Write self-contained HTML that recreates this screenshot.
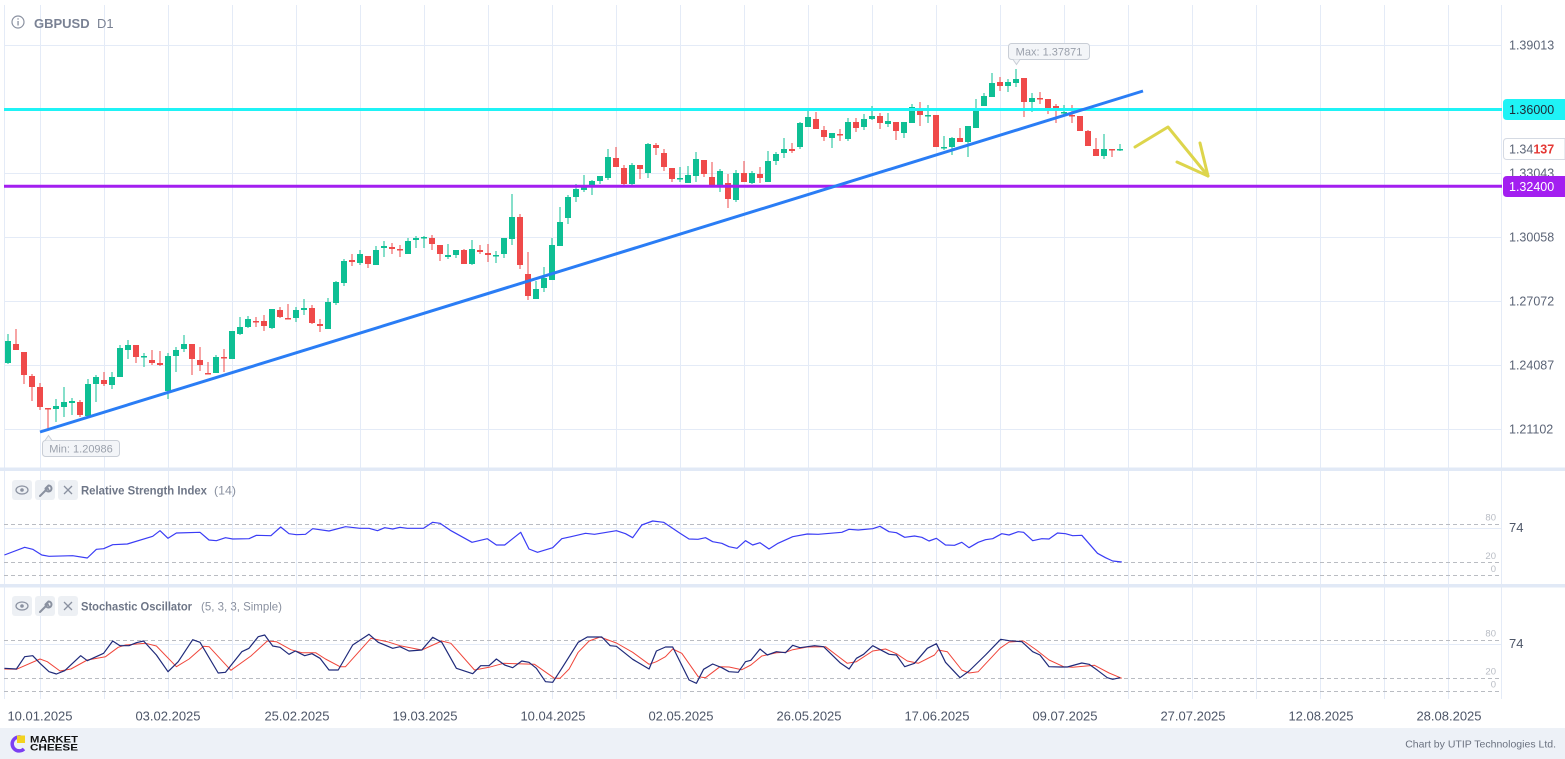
<!DOCTYPE html>
<html><head><meta charset="utf-8"><style>
html,body{margin:0;padding:0;background:#fff;}
svg{display:block;font-family:"Liberation Sans",Arial,sans-serif;}
</style></head><body>
<svg width="1565" height="759" viewBox="0 0 1565 759" xmlns="http://www.w3.org/2000/svg">
<rect width="1565" height="759" fill="#fff"/>
<!-- vertical grid -->
<g stroke="#e4ebf7" stroke-width="1">
<path d="M4.5 5V699M40.5 5V699M104.5 5V699M168.5 5V699M232.5 5V699M296.5 5V699M360.5 5V699M424.5 5V699M488.5 5V699M552.5 5V699M616.5 5V699M680.5 5V699M744.5 5V699M808.5 5V699M872.5 5V699M936.5 5V699M1000.5 5V699M1064.5 5V699M1128.5 5V699M1192.5 5V699M1256.5 5V699M1320.5 5V699M1384.5 5V699M1448.5 5V699M1501.5 5V699"/>
<path d="M4 45.5H1502M4 109.5H1502M4 173.5H1502M4 237.5H1502M4 301.5H1502M4 365.5H1502M4 429.5H1502M4 528.5H1502M4 644.5H1502"/>
</g>
<!-- separators -->
<rect x="0" y="467.5" width="1565" height="3.5" fill="#e1e9f6"/>
<rect x="0" y="584" width="1565" height="3.5" fill="#e1e9f6"/>
<!-- dashed levels -->
<g stroke="#b9bcc2" stroke-width="1" stroke-dasharray="4,3">
<path d="M4 524.5H1500M4 562.5H1500M4 575.5H1500M4 640.5H1500M4 678.5H1500M4 691.5H1500"/>
</g>
<!-- candles green -->
<g fill="#0ebf94">
<path stroke="#0ebf94" stroke-width="1" d="M8 334V364M56 399V422M64 387V417M72 398V415M88 379V417M96 375V402M112 372V389M120 345V377M128 340V359M144 353V367M168 353V399M176 347V372M184 335V352M216 355V373M232 331V359M240 317V335M248 316V328M272 309V329M296 307V322M304 299V315M328 298V329M336 281V305M344 259V286M360 250V265M376 246V265M384 241V257M408 238V254M416 236V248M424 236V248M448 244V259M456 250V258M472 240V265M496 251V263M504 238V258M512 194V245M536 281V299M544 267V292M552 238V280M560 207V246M568 195V224M576 184V202M584 175V192M592 180V195M600 176V184M608 149V180M632 163V185M648 143V178M680 167V182M688 166V183M696 152V182M720 169V192M736 170V202M752 171V184M768 151V182M776 152V165M784 138V158M800 122V149M808 111V127M832 133V148M848 118V141M864 114V130M872 106V120M888 113V127M904 122V138M912 104V123M928 105V123M944 136V150M952 137V155M968 126V157M976 99V128M984 93V106M992 73V97M1008 79V92M1016 69V87M1032 93V112M1064 105V116M1104 134V159M1120 144V151"/>
<rect x="5" y="341" width="6" height="22"/><rect x="53" y="406" width="6" height="3"/><rect x="61" y="402" width="6" height="5"/><rect x="69" y="401" width="6" height="2"/><rect x="85" y="384" width="6" height="32"/><rect x="93" y="377" width="6" height="7"/><rect x="109" y="377" width="6" height="8"/><rect x="117" y="348" width="6" height="29"/><rect x="125" y="345" width="6" height="5"/><rect x="141" y="356" width="6" height="1.5"/><rect x="165" y="356" width="6" height="35"/><rect x="173" y="350" width="6" height="6"/><rect x="181" y="344" width="6" height="5"/><rect x="213" y="357" width="6" height="16"/><rect x="229" y="331" width="6" height="28"/><rect x="237" y="327" width="6" height="7"/><rect x="245" y="319" width="6" height="8"/><rect x="269" y="309" width="6" height="19"/><rect x="293" y="310" width="6" height="8"/><rect x="301" y="308" width="6" height="2"/><rect x="325" y="302" width="6" height="27"/><rect x="333" y="282" width="6" height="21"/><rect x="341" y="261" width="6" height="22"/><rect x="357" y="254" width="6" height="9"/><rect x="373" y="250" width="6" height="15"/><rect x="381" y="246" width="6" height="2"/><rect x="405" y="241" width="6" height="13"/><rect x="413" y="238" width="6" height="2"/><rect x="421" y="237" width="6" height="1.5"/><rect x="445" y="255" width="6" height="2"/><rect x="453" y="250" width="6" height="5"/><rect x="469" y="249" width="6" height="15"/><rect x="493" y="255" width="6" height="1.5"/><rect x="501" y="238" width="6" height="16"/><rect x="509" y="217" width="6" height="22"/><rect x="533" y="289" width="6" height="10"/><rect x="541" y="278" width="6" height="10"/><rect x="549" y="245" width="6" height="35"/><rect x="557" y="222" width="6" height="24"/><rect x="565" y="197" width="6" height="21"/><rect x="573" y="189" width="6" height="8"/><rect x="581" y="187" width="6" height="3"/><rect x="589" y="181" width="6" height="5"/><rect x="597" y="176" width="6" height="5"/><rect x="605" y="157" width="6" height="21"/><rect x="629" y="165" width="6" height="19"/><rect x="645" y="144" width="6" height="29"/><rect x="677" y="178" width="6" height="1.5"/><rect x="685" y="175" width="6" height="8"/><rect x="693" y="159" width="6" height="17"/><rect x="717" y="171" width="6" height="14"/><rect x="733" y="173" width="6" height="27"/><rect x="749" y="173" width="6" height="10"/><rect x="765" y="161" width="6" height="21"/><rect x="773" y="154" width="6" height="7"/><rect x="781" y="149" width="6" height="4"/><rect x="797" y="123" width="6" height="24"/><rect x="805" y="117" width="6" height="10"/><rect x="829" y="133" width="6" height="5"/><rect x="845" y="122" width="6" height="17"/><rect x="861" y="119" width="6" height="8"/><rect x="869" y="116" width="6" height="3"/><rect x="885" y="121" width="6" height="3"/><rect x="901" y="122" width="6" height="11"/><rect x="909" y="107" width="6" height="16"/><rect x="925" y="115" width="6" height="1.5"/><rect x="941" y="147" width="6" height="1.5"/><rect x="949" y="138" width="6" height="9"/><rect x="965" y="126" width="6" height="16"/><rect x="973" y="108" width="6" height="20"/><rect x="981" y="96" width="6" height="10"/><rect x="989" y="83" width="6" height="14"/><rect x="1005" y="82" width="6" height="4"/><rect x="1013" y="79" width="6" height="4"/><rect x="1029" y="98" width="6" height="4"/><rect x="1061" y="112" width="6" height="1.5"/><rect x="1101" y="149" width="6" height="7"/><rect x="1117" y="149" width="6" height="1.5"/>
</g>
<!-- candles red -->
<g fill="#ef4a4a">
<path stroke="#ef4a4a" stroke-width="1" d="M16 329V350M24 352V384M32 374V401M40 383V410M48 408V430M80 400V417M104 372V386M136 345V363M152 350V365M160 351V366M192 344V375M200 347V371M208 362V374M224 349V372M256 317V327M264 315V331M280 307V318M288 304V319M312 305V324M320 319V332M352 254V266M368 256V268M392 243V254M400 245V257M432 235V250M440 245V261M464 249V264M480 245V254M488 244V262M520 214V269M528 252V300M616 147V167M624 165V185M640 165V179M656 143V155M664 149V171M672 168V182M704 160V177M712 162V187M728 174V208M744 161V182M760 167V183M792 143V153M816 112V129M824 126V141M840 129V141M856 118V132M880 113V129M896 122V140M920 102V126M936 115V147M960 128V142M1000 77V91M1024 78V117M1040 92V104M1048 99V114M1056 104V123M1072 105V123M1080 116V131M1088 130V146M1096 138V156M1112 149V157"/>
<rect x="13" y="344" width="6" height="6"/><rect x="21" y="352" width="6" height="23"/><rect x="29" y="376" width="6" height="11"/><rect x="37" y="387" width="6" height="20"/><rect x="45" y="408" width="6" height="1.5"/><rect x="77" y="402" width="6" height="13"/><rect x="101" y="380" width="6" height="4"/><rect x="133" y="345" width="6" height="12"/><rect x="149" y="360" width="6" height="3"/><rect x="157" y="363" width="6" height="2"/><rect x="189" y="344" width="6" height="15"/><rect x="197" y="360" width="6" height="5"/><rect x="205" y="373" width="6" height="1.5"/><rect x="221" y="357" width="6" height="1.5"/><rect x="253" y="321" width="6" height="1.5"/><rect x="261" y="321" width="6" height="5"/><rect x="277" y="310" width="6" height="7"/><rect x="285" y="318" width="6" height="1.5"/><rect x="309" y="308" width="6" height="15"/><rect x="317" y="324" width="6" height="2"/><rect x="349" y="260" width="6" height="2"/><rect x="365" y="256" width="6" height="8"/><rect x="389" y="247" width="6" height="2"/><rect x="397" y="249" width="6" height="1.5"/><rect x="429" y="238" width="6" height="6"/><rect x="437" y="245" width="6" height="9"/><rect x="461" y="250" width="6" height="14"/><rect x="477" y="250" width="6" height="2"/><rect x="485" y="253" width="6" height="2"/><rect x="517" y="217" width="6" height="48"/><rect x="525" y="274" width="6" height="22"/><rect x="613" y="158" width="6" height="9"/><rect x="621" y="168" width="6" height="16"/><rect x="637" y="165" width="6" height="4"/><rect x="653" y="145" width="6" height="3"/><rect x="661" y="153" width="6" height="14"/><rect x="669" y="168" width="6" height="11"/><rect x="701" y="160" width="6" height="14"/><rect x="709" y="177" width="6" height="8"/><rect x="725" y="183" width="6" height="16"/><rect x="741" y="173" width="6" height="9"/><rect x="757" y="174" width="6" height="4"/><rect x="789" y="149" width="6" height="2"/><rect x="813" y="119" width="6" height="10"/><rect x="821" y="130" width="6" height="7"/><rect x="837" y="134" width="6" height="1.5"/><rect x="853" y="122" width="6" height="6"/><rect x="877" y="116" width="6" height="7"/><rect x="893" y="122" width="6" height="9"/><rect x="917" y="110" width="6" height="5"/><rect x="933" y="115" width="6" height="32"/><rect x="957" y="138" width="6" height="4"/><rect x="997" y="82" width="6" height="4"/><rect x="1021" y="78" width="6" height="24"/><rect x="1037" y="98" width="6" height="1.5"/><rect x="1045" y="99" width="6" height="9"/><rect x="1053" y="106" width="6" height="4"/><rect x="1069" y="115" width="6" height="1.5"/><rect x="1077" y="116" width="6" height="15"/><rect x="1085" y="131" width="6" height="15"/><rect x="1093" y="149" width="6" height="7"/><rect x="1109" y="149" width="6" height="1.5"/>
</g>
<!-- horizontal levels -->
<line x1="4" y1="109.5" x2="1502" y2="109.5" stroke="#1ff3f6" stroke-width="3"/>
<line x1="4" y1="186.3" x2="1502" y2="186.3" stroke="#a31ff0" stroke-width="3"/>
<!-- trendline -->
<line x1="40" y1="432" x2="1143" y2="91" stroke="#2a7df5" stroke-width="3"/>
<!-- yellow arrow -->
<g stroke="#ddd54c" stroke-width="3" fill="none" stroke-linecap="round" stroke-linejoin="round">
<polyline points="1135,147 1168,127 1208,176"/>
<polyline points="1177,162 1208,176 1200,143"/>
</g>
<!-- max / min labels -->
<g>
<rect x="1008.5" y="43.5" width="81" height="16" rx="3" fill="#f3f5f8" stroke="#c9ced6"/>
<path d="M1013 59.5L1016.5 64.5L1020 59.5" fill="#f3f5f8" stroke="#c9ced6"/>
<text x="1049" y="55.5" font-size="11" fill="#9aa0ab" text-anchor="middle">Max: 1.37871</text>
<rect x="42.5" y="440.5" width="77" height="16" rx="3" fill="#f3f5f8" stroke="#c9ced6"/>
<path d="M45 440.5L48.5 435.5L52 440.5" fill="#f3f5f8" stroke="#c9ced6"/>
<text x="81" y="452.5" font-size="11" fill="#9aa0ab" text-anchor="middle">Min: 1.20986</text>
</g>
<!-- price axis labels -->
<g font-size="12.5" fill="#5c6577">
<text x="1509" y="49.5">1.39013</text>
<text x="1509" y="177.5">1.33043</text>
<text x="1509" y="241.5">1.30058</text>
<text x="1509" y="305.5">1.27072</text>
<text x="1509" y="369.5">1.24087</text>
<text x="1509" y="433.5">1.21102</text>
</g>
<path d="M1507 99H1565V120H1507Q1503 120 1503 116V103Q1503 99 1507 99Z" fill="#1ff3f6"/>
<text x="1509" y="114" font-size="12.5" fill="#1f2a37">1.36000</text>
<path d="M1507 138.5H1565V159.5H1507Q1503.5 159.5 1503.5 156V142Q1503.5 138.5 1507 138.5Z" fill="#fff" stroke="#d5dae3"/>
<text x="1509" y="153.5" font-size="12.5" fill="#5c6577">1.34<tspan fill="#e53935" font-weight="bold">137</tspan></text>
<path d="M1507 176H1565V197H1507Q1503 197 1503 193V180Q1503 176 1507 176Z" fill="#a31ff0"/>
<text x="1509" y="191" font-size="12.5" fill="#fff">1.32400</text>
<!-- header -->
<circle cx="18" cy="22" r="6" fill="none" stroke="#8a91a0" stroke-width="1.2"/>
<rect x="17.4" y="21" width="1.3" height="4.5" fill="#8a91a0"/><rect x="17.4" y="18.3" width="1.3" height="1.3" fill="#8a91a0"/>
<text x="34" y="28" font-size="13" font-weight="bold" fill="#7a8294">GBPUSD</text>
<text x="97" y="28" font-size="13" fill="#7a8294">D1</text>
<!-- RSI -->
<polyline fill="none" stroke="#3a3cf5" stroke-width="1.2" stroke-linejoin="round" points="4.4,555 24.7,547.3 32.7,549.3 41.8,555 49,556.3 72.7,555.7 87.3,558 96.4,549.3 103.6,548.7 112.7,544.7 127.3,544 152.7,536.3 160,530.7 168,538.3 176.4,533 200,532.3 209,540 216.4,540.7 225.5,537.7 232.7,539 249,538.7 256.4,535.3 270.9,535.7 280.7,527 289,533.7 296.4,534.7 305.5,534.3 312.7,528.7 329,531 345.5,526.7 360,528.3 369,528.3 377.5,530.7 384.7,527.7 392.7,529 400,527.3 407.3,528.3 423.6,528.3 432.7,522.3 440,523.3 451,530.7 472,542.3 487.3,538.7 496.4,545 504.7,545 520.7,532.3 529,549 537.5,552.3 552.7,547.7 561.8,538.7 571,536.7 585.5,533.3 594.5,534.3 616.4,530.7 625.5,533.7 632.7,537.7 641.8,525 652.7,521 663.6,522.3 680,533.3 689,539 698,539.3 705.5,537.7 712.7,541.7 721.8,543.3 729,546.7 737,548.3 745.5,540.7 752.7,545 760,542.7 769,549 778,543.3 792.7,536.7 807.3,534 818.2,534.3 841.8,532.3 849,529.3 858.2,530 872.7,528.7 880,526.3 889,531.7 896.4,532.7 904.7,537.3 914.5,536 921.8,537.3 929,541 936.4,538.3 945.5,545 954.5,545.3 961.8,542.3 969,547.7 978.2,542.3 985.5,539.7 992.7,538.7 1001.8,533.7 1009,535 1018.2,531.7 1023.6,532.3 1032.7,540.7 1041.8,538.7 1049,539 1057.5,533 1065.5,533.7 1072.7,535.7 1081.8,535.3 1097.5,553.3 1105.5,557.7 1112.7,561 1121.8,562"/>
<!-- Stoch -->
<polyline fill="none" stroke="#f0453a" stroke-width="1" stroke-linejoin="round" points="4.4,669 16.4,669.3 40,659 47.3,661.7 60,671 70.9,669 87.3,660 105.5,656.7 118.2,647.3 125.5,645 145.5,643.3 156.4,646 176.4,666.7 189.1,659 203.6,646.3 209.1,646.7 230.9,670.3 250.9,656 267.3,641 276.4,641.7 290.9,649.7 301.8,652.7 315.6,652.7 325.5,659 340,666.7 345.5,666.7 370.9,638.3 387.3,641.7 400,645.7 421.8,650 441.8,641 450.9,643.3 474.5,670 489,667.3 503.6,663.3 534.5,664.3 554.5,678.3 560,678.3 569.1,669 578.2,652.3 589.1,641 600,637 616.4,643 632.7,652.3 649.1,664.3 656.4,661.7 665.5,656.7 672.7,649 681.8,653.3 698.2,676.7 705.5,677.7 720,666.7 729.1,667 741.8,669.7 750.9,665 761.8,656 776.4,652.7 785.5,652.3 792.7,649.7 807.3,647 825.5,646.7 836.4,655 847.3,663.3 856.4,661.7 872.7,651 885.5,649 896.4,653.7 907.3,661 918.2,663.3 934.5,655 938.2,650 947.3,651.7 961.8,670 969.1,673 978.2,671.7 1000,648.3 1009.1,642 1023.6,641 1036.4,650 1049.1,660 1063.6,666.7 1072.7,667.3 1094.5,665.3 1109.1,673 1121.8,678.3"/>
<polyline fill="none" stroke="#1f2a7a" stroke-width="1.2" stroke-linejoin="round" points="4.4,668.3 16.4,669 24.7,656.7 32.7,655.7 40,663.3 49,671.7 56.4,674 64.7,670.7 80.7,655.7 87.3,660.7 103.6,653.3 112.7,641 120,645.7 129,645.7 136.4,642.7 143.6,641 156.4,655 168,671.7 178.2,661.7 192.7,639.7 200,642.3 218.2,673 225.5,672.3 241.8,651.7 249,648.3 258.2,636.7 264.7,635 272.7,646 280,647.3 289,654.3 295.3,651 304.7,655.7 312,653.7 320,658.3 329,670 338.2,670 352.7,645 369,634.3 378.2,642.3 392.7,648.3 400,646.7 409,651 421.8,650 432.7,637.3 441.8,642.3 456.4,668.3 472.7,673.7 480.7,665.7 489,665.7 496.4,659 504.7,665 512.7,667.7 521.8,661 529,662.3 536.4,668.3 545.5,681.7 552.7,682.3 561.8,668.3 578.2,642.3 587.3,637 601.8,637 610.2,645.7 616.4,646.3 632.7,659.3 649.1,669 656.4,651 665.5,647 672.7,647 689.1,680 696.4,683.3 703.6,669.3 712.7,664 721.8,667.7 729,671.7 738.2,672.3 745.5,661.7 750.9,660.3 760,649 767.3,655 776.4,651.7 785.5,652.7 792.7,645.3 800,647.7 814.5,645.7 823.6,646.7 840,662.7 849.1,669 856.4,658.3 863.6,654.3 872.7,645.7 889.1,654.3 896.4,655 904.7,666.7 914.5,663.3 927.3,648.3 936.4,643.7 945.5,662.3 960,677.7 969.1,671 985.5,655 1000.7,639.3 1009.1,640.7 1021.8,641.7 1032.7,651.7 1040,655 1049.1,666.7 1060,667 1067.3,667 1081.8,663 1089.1,664.3 1097.5,670.3 1107.3,677.7 1112.7,679.3 1120,677.7"/>
<!-- panel headers -->
<g>
<rect x="12" y="480" width="20" height="20" rx="3" fill="#edf0f4"/>
<rect x="35" y="480" width="20" height="20" rx="3" fill="#edf0f4"/>
<rect x="58" y="480" width="20" height="20" rx="3" fill="#edf0f4"/>
<ellipse cx="22" cy="490" rx="6" ry="4" fill="none" stroke="#8a91a0" stroke-width="1.2"/><circle cx="22" cy="490" r="1.8" fill="#8a91a0"/>
<path d="M40 496L46 490M45.5 488.5a3 3 0 1 0 3 -3l-1.5 1.5l1 2l-2 -1z" stroke="#8a91a0" stroke-width="2" fill="none" stroke-linecap="round"/>
<path d="M64 486L72 494M72 486L64 494" stroke="#8a91a0" stroke-width="1.3"/>
<text x="81" y="494.5" font-size="12" font-weight="bold" fill="#6e7687" textLength="126" lengthAdjust="spacingAndGlyphs">Relative Strength Index</text>
<text x="214" y="494.5" font-size="12" fill="#8a91a0" textLength="22" lengthAdjust="spacingAndGlyphs">(14)</text>
<rect x="12" y="596" width="20" height="20" rx="3" fill="#edf0f4"/>
<rect x="35" y="596" width="20" height="20" rx="3" fill="#edf0f4"/>
<rect x="58" y="596" width="20" height="20" rx="3" fill="#edf0f4"/>
<ellipse cx="22" cy="606" rx="6" ry="4" fill="none" stroke="#8a91a0" stroke-width="1.2"/><circle cx="22" cy="606" r="1.8" fill="#8a91a0"/>
<path d="M40 612L46 606M45.5 604.5a3 3 0 1 0 3 -3l-1.5 1.5l1 2l-2 -1z" stroke="#8a91a0" stroke-width="2" fill="none" stroke-linecap="round"/>
<path d="M64 602L72 610M72 602L64 610" stroke="#8a91a0" stroke-width="1.3"/>
<text x="81" y="610.5" font-size="12" font-weight="bold" fill="#6e7687" textLength="111" lengthAdjust="spacingAndGlyphs">Stochastic Oscillator</text>
<text x="201" y="610.5" font-size="12" fill="#8a91a0" textLength="81" lengthAdjust="spacingAndGlyphs">(5, 3, 3, Simple)</text>
</g>
<!-- indicator axis labels -->
<g font-size="9.5" fill="#b8bcc4" text-anchor="end">
<text x="1496" y="520.5">80</text><text x="1496" y="559">20</text><text x="1496" y="572">0</text>
<text x="1496" y="636.5">80</text><text x="1496" y="674.5">20</text><text x="1496" y="687.5">0</text>
</g>
<g font-size="13" fill="#4d5668">
<text x="1509" y="532">74</text><text x="1509" y="648">74</text>
</g>
<!-- time axis -->
<g font-size="13" fill="#4d5668" text-anchor="middle">
<text x="40" y="720.5">10.01.2025</text>
<text x="168" y="720.5">03.02.2025</text>
<text x="297" y="720.5">25.02.2025</text>
<text x="425" y="720.5">19.03.2025</text>
<text x="553" y="720.5">10.04.2025</text>
<text x="681" y="720.5">02.05.2025</text>
<text x="809" y="720.5">26.05.2025</text>
<text x="937" y="720.5">17.06.2025</text>
<text x="1065" y="720.5">09.07.2025</text>
<text x="1193" y="720.5">27.07.2025</text>
<text x="1321" y="720.5">12.08.2025</text>
<text x="1449" y="720.5">28.08.2025</text>
</g>
<!-- footer -->
<rect x="0" y="728" width="1565" height="31" fill="#edf1f7"/>
<g>
<path d="M22 737.5A7 7 0 1 0 24 749" fill="none" stroke="#7b3ff2" stroke-width="3.5"/>
<path d="M17 735.5L25 735.5L25 743L17 743Z" fill="#f3d21f"/>
</g>
<text x="30" y="742.5" font-size="9" font-weight="bold" fill="#111" textLength="48" lengthAdjust="spacingAndGlyphs">MARKET</text>
<text x="30" y="750.5" font-size="9" font-weight="bold" fill="#111" textLength="48" lengthAdjust="spacingAndGlyphs">CHEESE</text>
<text x="1556" y="747.5" font-size="10.5" fill="#6b7280" text-anchor="end">Chart by UTIP Technologies Ltd.</text>
</svg>
</body></html>
